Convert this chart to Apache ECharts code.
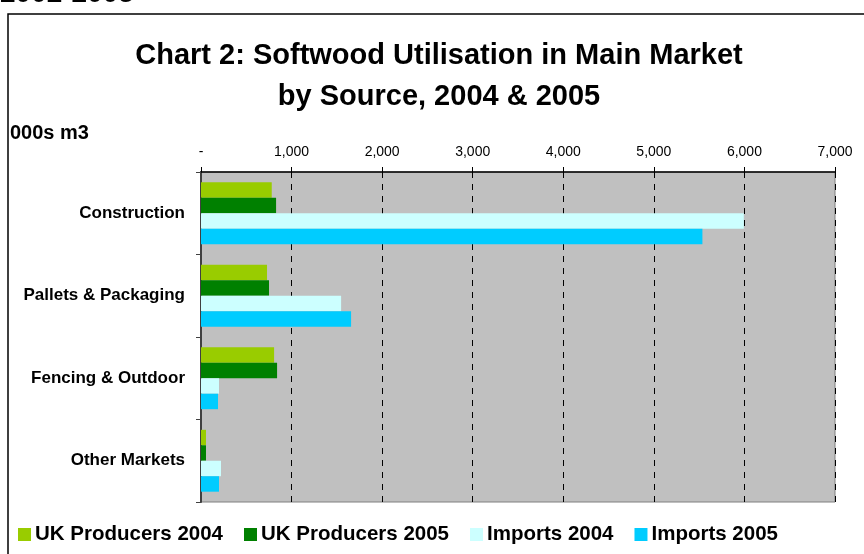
<!DOCTYPE html>
<html>
<head>
<meta charset="utf-8">
<script src="https://cdn.jsdelivr.net/npm/echarts@6/dist/echarts.min.js"></script>
<style>
  html, body { margin: 0; padding: 0; background: #fff; }
  #chart { width: 864px; height: 554px; }
</style>
</head>
<body>
<div id="chart"></div>
<script>
// Market categories, top to bottom
const categories = ['Construction', 'Pallets & Packaging', 'Fencing & Outdoor', 'Other Markets'];

// Softwood volumes, 000s m3
const ukProducers2004 = [781, 729, 807, 55];
const ukProducers2005 = [829, 751, 840, 55];
const imports2004 = [5993, 1547, 199, 221];
const imports2005 = [5536, 1657, 188, 199];

const seriesNames = ['UK Producers 2004', 'UK Producers 2005', 'Imports 2004', 'Imports 2005'];
const seriesColors = ['#99cc00', '#008000', '#ccffff', '#00ccff'];
const seriesValues = [ukProducers2004, ukProducers2005, imports2004, imports2005];

const axisMax = 7000;
const axisStep = 1000;

const FONT = 'Liberation Sans, Arial, sans-serif';

const chart = echarts.init(document.getElementById('chart'), null, { renderer: 'canvas' });

chart.setOption({
  backgroundColor: '#ffffff',
  animation: false,
  graphic: [
    {
      type: 'text',
      left: 0,
      top: -20,
      style: { text: '2002-2005', font: 'bold 28px ' + FONT, fill: '#000' }
    },
    {
      type: 'rect',
      shape: { x: 8, y: 14, width: 1000, height: 700 },
      style: { fill: 'none', stroke: '#000', lineWidth: 1.5 },
      z: -1
    },
    {
      type: 'text',
      left: 10,
      top: 123,
      style: { text: '000s m3', font: 'bold 20px ' + FONT, fill: '#000' }
    }
  ],
  title: {
    text: 'Chart 2: Softwood Utilisation in Main Market\nby Source, 2004 & 2005',
    left: 439,
    top: 35,
    padding: 0,
    textAlign: 'center',
    textStyle: { fontFamily: FONT, fontWeight: 'bold', fontSize: 29, lineHeight: 41, color: '#000' }
  },
  legend: {
    data: seriesNames,
    left: 18,
    top: 524,
    padding: 0,
    itemWidth: 13,
    itemHeight: 13,
    itemGap: 21,
    icon: 'rect',
    textStyle: { fontFamily: FONT, fontWeight: 'bold', fontSize: 20.5, color: '#000', padding: [0, 0, 0, -1] }
  },
  grid: {
    left: 201,
    right: 29,
    top: 172,
    bottom: 52,
    show: true,
    backgroundColor: '#c0c0c0',
    borderColor: '#808080',
    borderWidth: 1
  },
  xAxis: {
    type: 'value',
    position: 'top',
    min: 0,
    max: axisMax,
    interval: axisStep,
    axisLine: { show: true, lineStyle: { color: '#000', width: 1.5 } },
    axisTick: { show: true, inside: false, length: 5, lineStyle: { color: '#000' } },
    axisLabel: {
      margin: 13,
      fontFamily: FONT,
      fontSize: 14,
      color: '#000',
      formatter: v => v === 0 ? '-' : v.toLocaleString('en-GB')
    },
    splitLine: { show: true, lineStyle: { color: '#000', type: [6, 6], width: 1 } }
  },
  yAxis: {
    type: 'category',
    data: categories,
    inverse: true,
    axisLine: { show: true, lineStyle: { color: '#404040', width: 2 } },
    axisTick: { show: true, length: 5, lineStyle: { color: '#404040' } },
    axisLabel: { margin: 16, fontFamily: FONT, fontWeight: 'bold', fontSize: 17, color: '#000' }
  },
  series: seriesNames.map((name, i) => ({
    name: name,
    type: 'bar',
    data: seriesValues[i],
    barGap: '0%',
    barCategoryGap: '25%',
    itemStyle: { color: seriesColors[i] }
  }))
});
</script>
</body>
</html>
